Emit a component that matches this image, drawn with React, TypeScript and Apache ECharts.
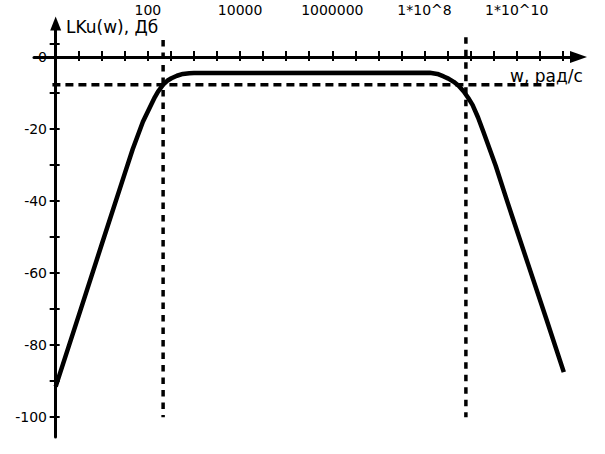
import React, { useEffect, useRef } from "react";
import * as echarts from "echarts";

// Frequency response (w in rad/s, gain in dB)
const freqW = [1, 3.16, 10, 31.6, 46.8, 78, 110, 141, 166, 214, 263, 324, 427, 575, 794, 1000, 1.3e8, 1.9e8, 2.6e8, 3.3e8, 4.3e8, 5.5e8, 7.1e8, 8.9e8, 1.1e9, 1.45e9, 1.9e9, 3.5e9, 6.3e9, 1.74e10, 4.3e10, 1.05e11];
const gainDb = [-91.5, -71.8, -52.0, -32.3, -25.6, -18.0, -14.0, -11.2, -9.6, -7.7, -6.6, -5.9, -5.2, -4.7, -4.5, -4.45, -4.4, -4.7, -5.4, -6.0, -6.9, -8.0, -9.6, -11.4, -13.3, -16.8, -20.8, -30.2, -40.3, -57.3, -72.4, -87.5];

// Guide (dashed) lines
const cutoffW = [214, 7.9e8];
const cutoffTop = [4.7, 5.5];
const cutoffBottom = -100;
const levelDb = -7.7;
const levelSpanW = [0.85, 8e10];

// Axis ticks / labels (x in log10(w))
const xTickValues = [0.5, 1, 1.5, 2, 2.5, 3, 3.5, 4, 4.5, 5, 5.5, 6, 6.5, 7, 7.5, 8, 8.5, 9, 9.5, 10, 10.5, 11];
const xLabelValues = [2, 4, 6, 8, 10];
const xLabelTexts = ["100", "10000", "1000000", "1*10^8", "1*10^10"];
const yTickValues = [-100, -90, -80, -70, -60, -50, -40, -30, -20, -10, 0, 3.6];
const yLabelValues = [-100, -80, -60, -40, -20, 0];

const FONT = "DejaVu Sans";

export default function App() {
  const ref = useRef<HTMLDivElement>(null);
  useEffect(() => {
    if (!ref.current) return;
    const chart = echarts.init(ref.current, undefined, { renderer: "svg" });
    const lg = (w: number) => Math.log10(w);
    const curve = freqW.map((w, i) => [lg(w), gainDb[i]]);
    const vSeries = cutoffW.map((w, i) => ({
      type: "line",
      data: [[lg(w), cutoffTop[i]], [lg(w), cutoffBottom]],
      symbol: "none",
      silent: true,
      lineStyle: { color: "#000", width: 3.5, type: [6.5, 6] },
      z: 3,
    }));
    const xMin = -0.47;
    const xMax = 11.34;
    const yMin = -105.5;
    const yMax = 9.3;
    const common = { color: "#000" };
    chart.setOption({
      animation: false,
      backgroundColor: "#fff",
      grid: { left: 34, right: 26.5, top: 23.5, bottom: 17, containLabel: false, outerBoundsMode: "none" },
      xAxis: [
        {
          type: "value",
          min: xMin,
          max: xMax,
          position: "top",
          axisLine: {
            show: true,
            onZero: true,
            onZeroAxisIndex: 0,
            symbol: ["none", "triangle"],
            symbolSize: [12, 17],
            lineStyle: { ...common, width: 3 },
          },
          axisTick: { show: true, inside: false, length: 6, customValues: xTickValues, lineStyle: { ...common, width: 2 } },
          axisLabel: {
            show: true,
            customValues: xLabelValues,
            margin: 7,
            color: "#000",
            fontFamily: FONT,
            fontSize: 14,
            formatter: (v: number) => {
              const i = xLabelValues.findIndex((x) => Math.abs(x - v) < 1e-6);
              return i >= 0 ? xLabelTexts[i] : "";
            },
          },
          splitLine: { show: false },
        },
        {
          type: "value",
          min: xMin,
          max: xMax,
          position: "top",
          axisLine: { show: false, onZero: true, onZeroAxisIndex: 0 },
          axisTick: { show: true, inside: true, length: 4, customValues: xTickValues, lineStyle: { ...common, width: 2 } },
          axisLabel: { show: false },
          splitLine: { show: false },
        },
      ],
      yAxis: [
        {
          type: "value",
          min: yMin,
          max: yMax,
          position: "left",
          axisLine: {
            show: true,
            onZero: true,
            onZeroAxisIndex: 0,
            symbol: ["none", "triangle"],
            symbolSize: [11, 14],
            lineStyle: { ...common, width: 3 },
          },
          axisTick: { show: true, inside: false, length: 6, customValues: yTickValues, lineStyle: { ...common, width: 2 } },
          axisLabel: {
            show: true,
            customValues: yLabelValues,
            margin: -13,
            color: "#000",
            fontFamily: FONT,
            fontSize: 14,
          },
          splitLine: { show: false },
        },
        {
          type: "value",
          min: yMin,
          max: yMax,
          position: "left",
          axisLine: { show: false, onZero: true, onZeroAxisIndex: 0 },
          axisTick: { show: true, inside: true, length: 4, customValues: yTickValues, lineStyle: { ...common, width: 2 } },
          axisLabel: { show: false },
          splitLine: { show: false },
        },
      ],
      graphic: [
        { type: "text", x: 66, y: 26.5, style: { text: "LKu(w), Дб", font: `17px "${FONT}"`, fill: "#000", verticalAlign: "middle" } },
        { type: "text", x: 510, y: 76, style: { text: "w, рад/с", font: `17px "${FONT}"`, fill: "#000", verticalAlign: "middle" } },
      ],
      series: [
        ...vSeries,
        {
          type: "line",
          data: [[lg(levelSpanW[0]), levelDb], [lg(levelSpanW[1]), levelDb]],
          symbol: "none",
          silent: true,
          lineStyle: { color: "#000", width: 3.5, type: [8, 5] },
          z: 3,
        },
        {
          type: "line",
          data: curve,
          symbol: "none",
          smooth: false,
          lineStyle: { color: "#000", width: 4.5, join: "round" },
          z: 4,
        },
      ],
    });
    return () => chart.dispose();
  }, []);
  return <div ref={ref} style={{ position: "fixed", left: 0, top: 0, width: 605, height: 454, background: "#fff" }} />;
}
